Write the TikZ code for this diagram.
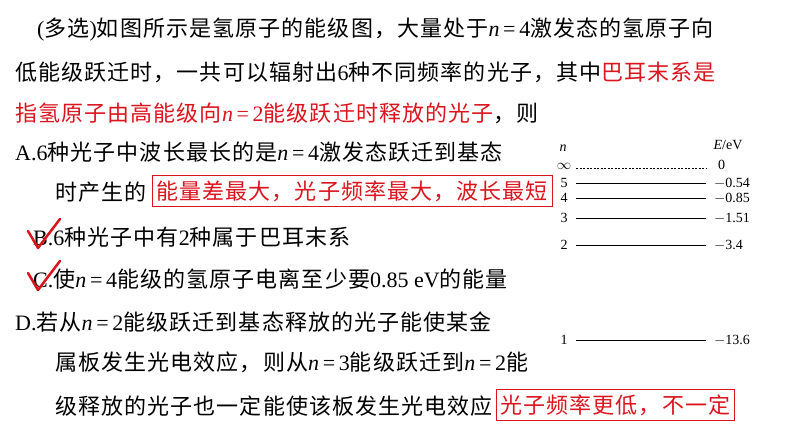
\documentclass[tikz,border=0pt]{standalone}
\usepackage{fontspec}
\setmainfont{Liberation Serif}
\newfontfamily\cjk[LetterSpace=5]{Noto Sans CJK SC}
\newcommand{\neqn}[1]{\textit{n}\,=\,#1}
\definecolor{myred}{RGB}{220,20,30}
\begin{document}
\begin{tikzpicture}[x=1pt,y=-1pt,
  tl/.style={anchor=base west,inner sep=0pt,font=\fontsize{22}{26}\selectfont},
  rbox/.style={draw=myred,line width=0.8pt,inner xsep=4pt,inner ysep=5pt,text=myred,font=\cjk\fontsize{22}{26}\selectfont},
  lv/.style={line width=0.7pt},
  sm/.style={font=\fontsize{14}{16}\selectfont,inner sep=0pt}]
\useasboundingbox (0,0) rectangle (794,447);
\fill[white] (0,0) rectangle (794,447);
\node[tl] (l1) at (37,36) {({\cjk 多选}){\cjk 如图所示是氢原子的能级图，大量处于}\neqn{4}{\cjk 激发态的氢原子向}};
\node[tl] (l2) at (15,80) {{\cjk 低能级跃迁时，一共可以辐射出}6{\cjk 种不同频率的光子，其中}{\cjk\color{myred}巴耳末系是}};
\node[tl,text=myred] (l3) at (15,121) {{\cjk 指氢原子由高能级向}\neqn{2}{\cjk 能级跃迁时释放的光子}\textcolor{black}{{\cjk ，则}}};
\node[tl] (la) at (15,160) {A.6{\cjk 种光子中波长最长的是}\neqn{4}{\cjk 激发态跃迁到基态}};
\node[tl] (la2) at (55,200) {\cjk 时产生的};
\node[rbox,anchor=west] (b1) at (152,191) {能量差最大，光子频率最大，波长最短};
\node[tl] (lb) at (33,245) {B.6{\cjk 种光子中有}2{\cjk 种属于巴耳末系}};
\node[tl] (lc) at (33,287) {C.{\cjk 使}\neqn{4}{\cjk 能级的氢原子电离至少要}0.85 eV{\cjk 的能量}};
\node[tl] (ld) at (15,330) {D.{\cjk 若从}\neqn{2}{\cjk 能级跃迁到基态释放的光子能使某金}};
\node[tl] (ld2) at (55,370) {{\cjk 属板发生光电效应，则从}\neqn{3}{\cjk 能级跃迁到}\neqn{2}{\cjk 能}};
\node[tl] (ld3) at (55,414) {\cjk 级释放的光子也一定能使该板发生光电效应};
\node[rbox,anchor=west] (b2) at (496,405) {光子频率更低，不一定};
% checkmarks
\draw[myred,line width=2.5pt,line cap=round,line join=round] (28,231) -- (38,248) -- (60,219);
\draw[myred,line width=2.5pt,line cap=round,line join=round] (28,273) -- (38,290) -- (60,261);
% energy levels
\node[sm,font=\itshape\fontsize{14}{16}\selectfont] (nn) at (563,148) {n};
\node[sm] (ee) at (728,145) {\textit{E}/eV};
\foreach \n/\y/\v in {5/183/$-$0.54,4/198/$-$0.85,3/218/$-$1.51,2/245/$-$3.4,1/340/$-$13.6}{
  \node[sm] (n\n) at (564,\y) {\n};
  \coordinate (a\n) at (576,\y); \coordinate (c\n) at (706,\y);
  \draw[lv] (a\n) -- (c\n);
  \node[sm,anchor=west] (v\n) at (714,\y) {\v};
}
\node[sm] (ninf) at (564,166) {$\infty$};
\coordinate (ai) at (576,168); \coordinate (ci) at (706,168);
\draw[lv,dashed,dash pattern=on 2pt off 1.5pt] (ai) -- (ci);
\node[sm,anchor=west] (vi) at (718,165) {0};
\end{tikzpicture}
\end{document}
